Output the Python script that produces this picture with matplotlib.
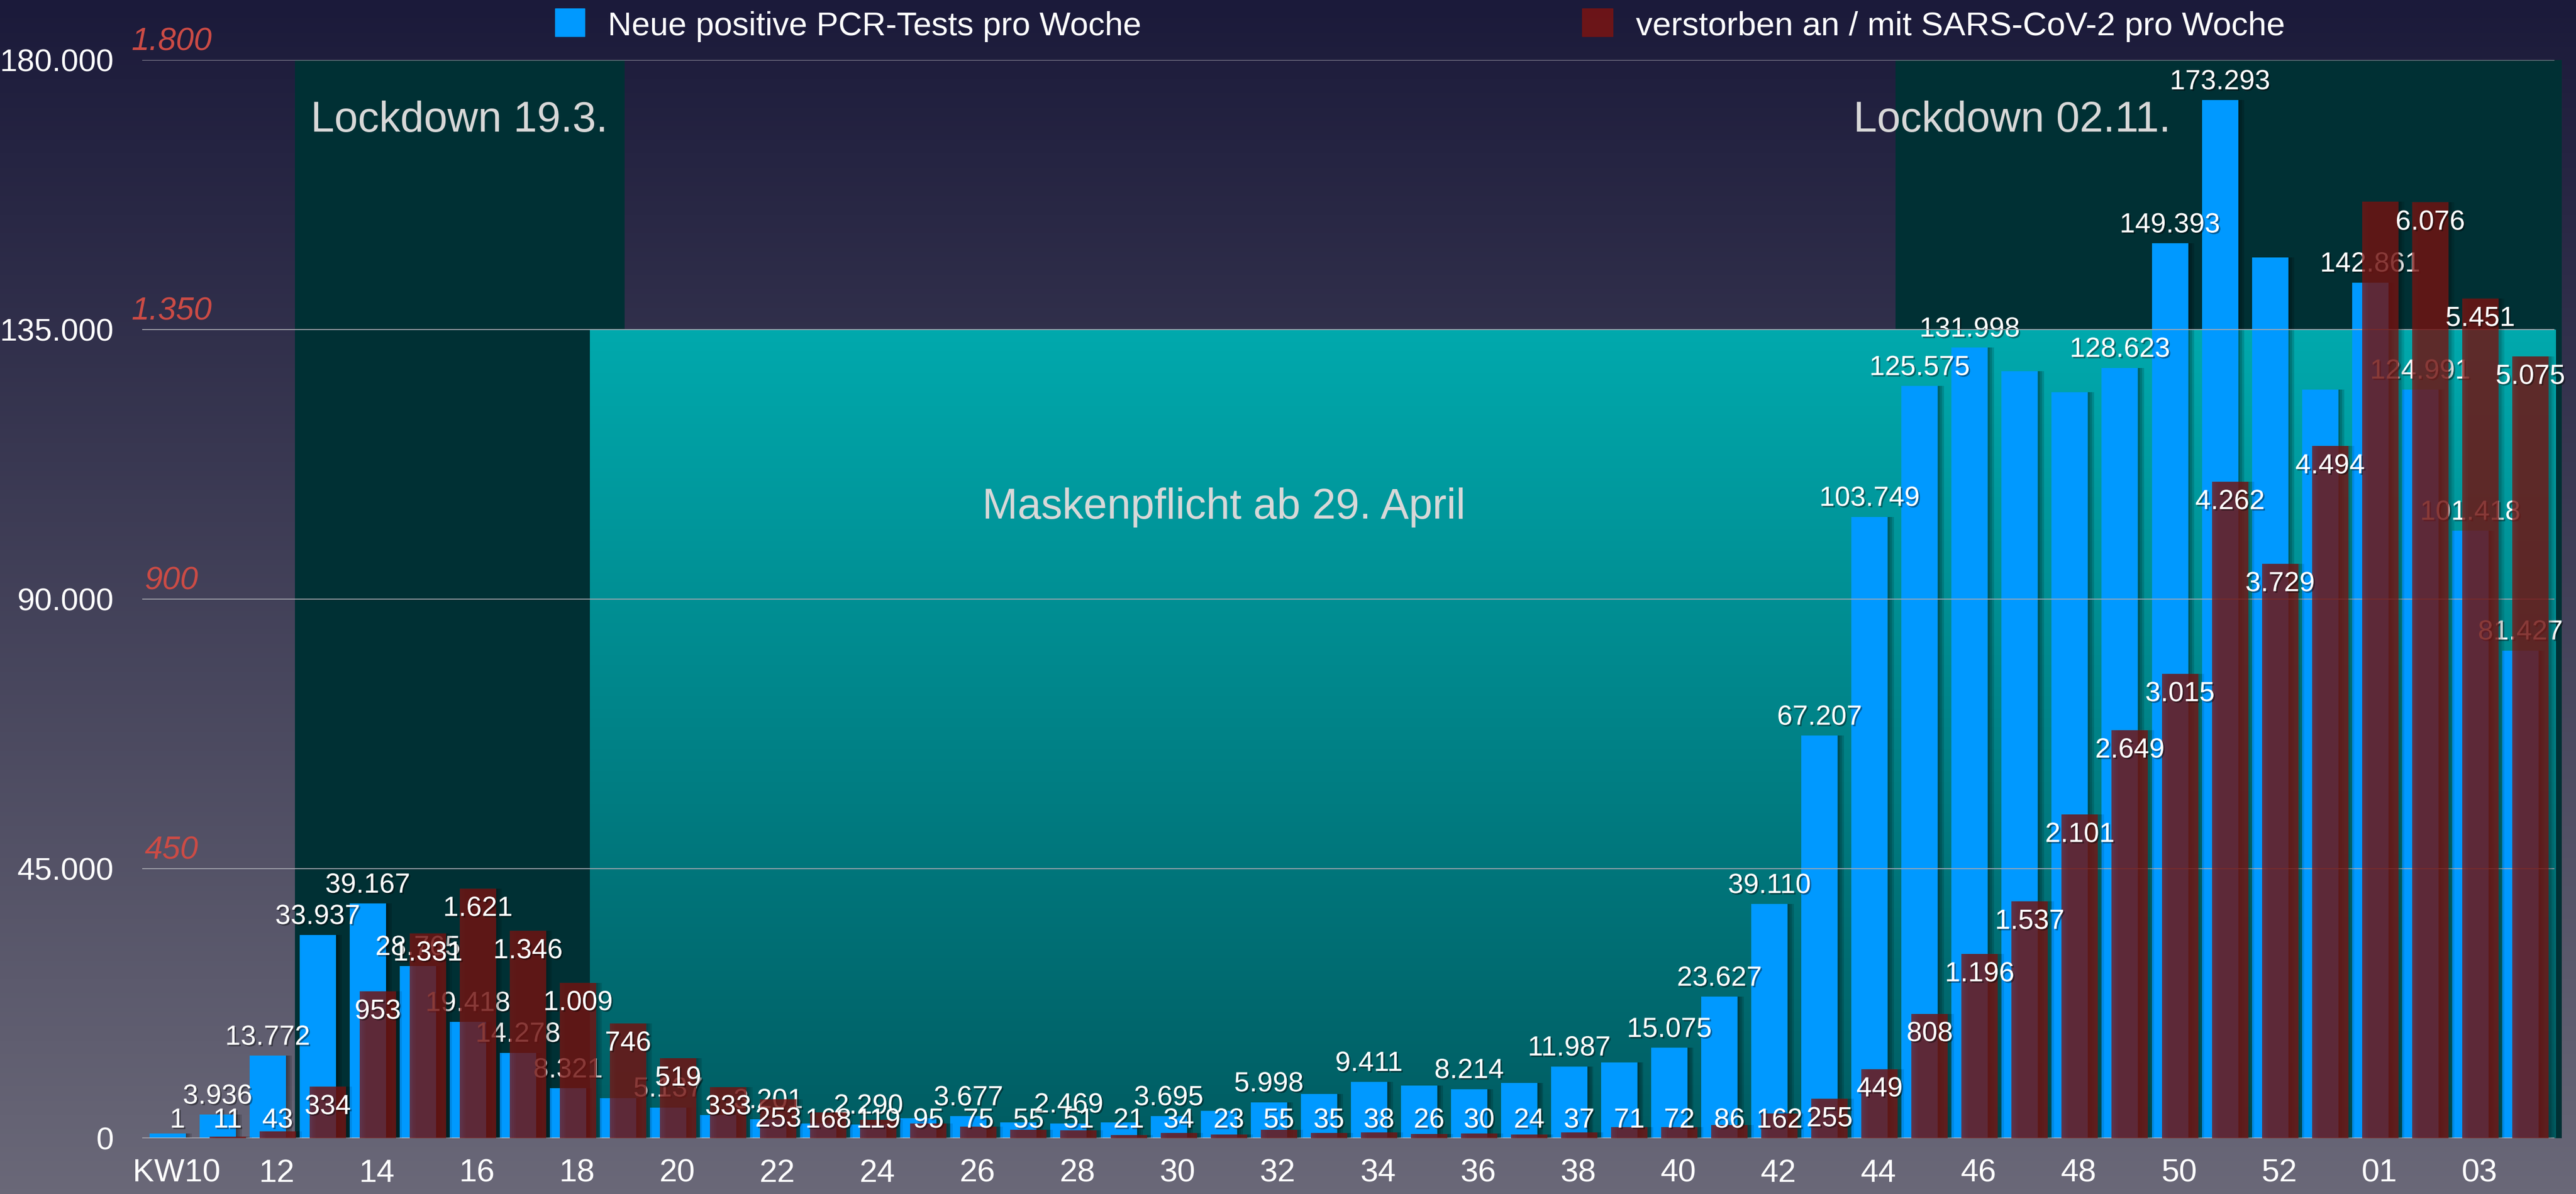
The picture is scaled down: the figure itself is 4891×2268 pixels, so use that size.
"""Neue positive PCR-Tests und Verstorbene pro Woche"""

import matplotlib
matplotlib.use("Agg")
import matplotlib.pyplot as plt
import matplotlib.patheffects as pe
import numpy as np
from matplotlib.patches import Rectangle
from matplotlib.colors import LinearSegmentedColormap

plt.rcParams['font.family'] = ['Liberation Sans', 'DejaVu Sans']

# --------------------------------------------------------------------------------------------
# Data
# --------------------------------------------------------------------------------------------

weeks = list(range(10, 54)) + [1, 2, 3, 4]

cases = [800, 3936, 13772, 33937, 39167, 28765, 19418, 14278, 8321, 6700,
         5137, 3900, 3201, 2450, 2290, 3300, 3677, 2600, 2469, 2600,
         3695, 4600, 5998, 7400, 9411, 8800, 8214, 9200, 11987, 12700,
         15075, 23627, 39110, 67207, 103749, 125575, 131998, 128100, 124500, 128623,
         149393, 173293, 147000, 125000, 142861, 124991, 101418, 81427]

deaths = [1, 11, 43, 334, 953, 1331, 1621, 1346, 1009, 746,
          519, 333, 253, 168, 119, 95, 75, 55, 51, 21,
          34, 23, 55, 35, 38, 26, 30, 24, 37, 71,
          72, 86, 162, 255, 449, 808, 1196, 1537, 2101, 2649,
          3015, 4262, 3729, 4494, 6080, 6076, 5451, 5075]

# labels that are not visible in the original chart (index into weeks)
hidden_case_labels = [0, 9, 11, 13, 15, 17, 19, 21, 23, 25, 27, 29, 37, 38, 42, 43]
hidden_death_labels = [44]

case_ticks = [0, 45000, 90000, 135000, 180000]
death_tick_labels = ["450", "900", "1.350", "1.800"]
death_max = 7000

legend_cases = "Neue positive PCR-Tests pro Woche"
legend_deaths = "verstorben an / mit SARS-CoV-2 pro Woche"

# --------------------------------------------------------------------------------------------
# Style
# --------------------------------------------------------------------------------------------

W, H = 4891, 2268
BLUE = '#0099FF'
RED = '#7A1412'
RED_ALPHA = 0.77
LOCK = '#003034'


def fmt(v):
    return f"{v:,}".replace(",", ".")


fig = plt.figure(figsize=(W / 100, H / 100), dpi=100)

# background gradient
bg = fig.add_axes([0, 0, 1, 1], zorder=-10)
bg_cmap = LinearSegmentedColormap.from_list('bg', ['#6A6878', '#1B1A3A'])
bg.imshow(np.linspace(0, 1, 256).reshape(-1, 1), cmap=bg_cmap, aspect='auto',
          extent=[0, 1, 0, 1], origin='lower')
bg.axis('off')

ax = fig.add_axes([270 / W, (H - 2162) / H, 4580 / W, 2048 / H])
ax.set_facecolor('none')
ax2 = ax.twinx()
ax2.set_facecolor('none')

x = np.arange(len(weeks))
bw = 0.726

# --------------------------------------------------------------------------------------------
# Bands
# --------------------------------------------------------------------------------------------

for x0, x1 in [(2.45, 9.03), (34.42, 47.73)]:
    band = ax.axvspan(x0, x1, color=LOCK, zorder=1, lw=0)
    band.set_clip_on(False)

mask_cmap = LinearSegmentedColormap.from_list('mask', ['#005C62', '#00A9AD'])
mask = ax.imshow(np.linspace(0, 1, 256).reshape(-1, 1), cmap=mask_cmap, aspect='auto',
                 extent=[8.34, 47.61, 0, 135000], origin='lower', zorder=1.5)
mask.set_clip_on(False)

# --------------------------------------------------------------------------------------------
# Bars
# --------------------------------------------------------------------------------------------

for k in range(1, 4):
    ax.bar(x - 0.1 + 0.04 * k, cases, width=bw, color='black', alpha=0.15, zorder=2, lw=0)
    ax2.bar(x + 0.1 + 0.04 * k, deaths, width=bw, color='black', alpha=0.1, zorder=2, lw=0)

ax.bar(x - 0.1, cases, width=bw, color=BLUE, zorder=3, lw=0)
ax2.bar(x + 0.1, deaths, width=bw, color=RED, alpha=RED_ALPHA, zorder=3, lw=0)

shadow = [pe.withSimplePatchShadow(offset=(2, -2), shadow_rgbFace='black', alpha=0.4)]

for i, v in enumerate(cases):
    if i in hidden_case_labels:
        continue
    ax.annotate(fmt(v), (x[i] - 0.1, v), xytext=(0, 25), textcoords='offset points',
                ha='center', va='center', fontsize=38, color='white', zorder=4,
                path_effects=shadow)

px_per_death = 2048 / death_max
for i, d in enumerate(deaths):
    if i in hidden_death_labels:
        continue
    off_px = max(d * px_per_death - 38, 34) - d * px_per_death
    ax2.annotate(fmt(d), (x[i] + 0.1, d), xytext=(0, off_px * 0.72), textcoords='offset points',
                 ha='center', va='center', fontsize=38, color='white', zorder=5,
                 path_effects=shadow)

# --------------------------------------------------------------------------------------------
# Axes
# --------------------------------------------------------------------------------------------

for yv in case_ticks[1:]:
    ax.axhline(yv, color='#A8A8B0', lw=1.4, alpha=0.9, zorder=5)
ax.axhline(0, color='#C4C4C8', lw=2.4, zorder=5)

ax.set_xlim(-0.606, 47.58)
ax.set_ylim(0, 180000)
ax2.set_ylim(0, death_max)
ax2.set_yticks([])

tick_labels = ["KW10"] + [f"{w:02d}" for w in weeks[2::2]]
ax.set_xticks(x[::2] + 0.08)
ax.set_xticklabels(tick_labels)
ax.set_yticks(case_ticks)
ax.set_yticklabels([fmt(v) for v in case_ticks])
ax.tick_params(axis='x', length=0, pad=28, labelsize=44, labelcolor='white')
ax.tick_params(axis='y', length=0, pad=39, labelsize=43, labelcolor='white')

for a in (ax, ax2):
    for s in a.spines.values():
        s.set_visible(False)

for yv, lab in zip(case_ticks[1:], death_tick_labels):
    ax.annotate(lab, xy=(0, yv), xycoords=('axes fraction', 'data'), xytext=(40, 13),
                textcoords='offset points', ha='center', va='baseline', fontsize=44,
                style='italic', color='#CC4B45')

# --------------------------------------------------------------------------------------------
# Legend and band captions
# --------------------------------------------------------------------------------------------

fig.patches.append(Rectangle((1054 / W, 1 - 69 / H), 56 / W, 53 / H,
                             transform=fig.transFigure, color=BLUE))
fig.text(1154 / W, 1 - 67 / H, legend_cases, fontsize=45, color='white', va='baseline')
fig.patches.append(Rectangle((3004 / W, 1 - 69 / H), 58 / W, 53 / H,
                             transform=fig.transFigure, color=RED, alpha=0.85))
fig.text(3106 / W, 1 - 67 / H, legend_deaths, fontsize=45.5, color='white', va='baseline')

fig.text(590 / W, 1 - 250 / H, "Lockdown 19.3.", fontsize=58, color='#D8D8D8', va='baseline')
fig.text(3519 / W, 1 - 250 / H, "Lockdown 02.11.", fontsize=58, color='#D8D8D8', va='baseline')
fig.text(2324 / W, 1 - 985 / H, "Maskenpflicht ab 29. April", fontsize=58, color='#D8D8D8',
         va='baseline', ha='center')

fig.savefig('out.png', dpi=100)
